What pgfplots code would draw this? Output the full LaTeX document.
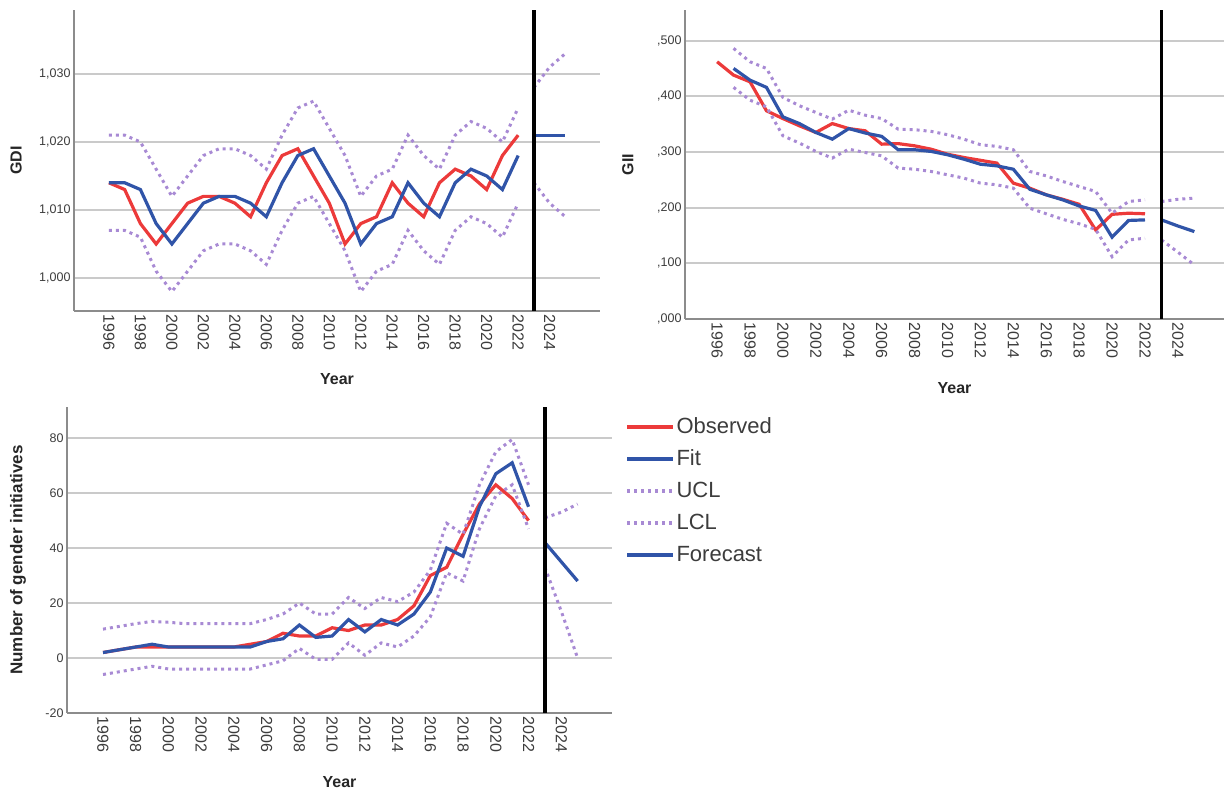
\documentclass[border=0pt]{standalone}
\usepackage{fontspec}
\setmainfont{Liberation Sans}
\usepackage{pgfplots}
\pgfplotsset{compat=1.18}
\usepackage{pgfplotstable}

\definecolor{obsred}{RGB}{236,58,58}
\definecolor{fitblue}{RGB}{48,84,168}
\definecolor{clpurple}{RGB}{168,138,212}
\definecolor{gridgray}{RGB}{202,202,202}
\definecolor{axisgray}{RGB}{140,140,140}
\definecolor{ticktext}{RGB}{60,60,60}

% year obs fit ucl lcl
\pgfplotstableread{
year obs fit ucl lcl
1996 1.014 1.014 1.021 1.007
1997 1.013 1.014 1.021 1.007
1998 1.008 1.013 1.020 1.006
1999 1.005 1.008 1.016 1.001
2000 1.008 1.005 1.012 0.998
2001 1.011 1.008 1.015 1.001
2002 1.012 1.011 1.018 1.004
2003 1.012 1.012 1.019 1.005
2004 1.011 1.012 1.019 1.005
2005 1.009 1.011 1.018 1.004
2006 1.014 1.009 1.016 1.002
2007 1.018 1.014 1.021 1.007
2008 1.019 1.018 1.025 1.011
2009 1.015 1.019 1.026 1.012
2010 1.011 1.015 1.022 1.008
2011 1.005 1.011 1.018 1.004
2012 1.008 1.005 1.012 0.998
2013 1.009 1.008 1.015 1.001
2014 1.014 1.009 1.016 1.002
2015 1.011 1.014 1.021 1.007
2016 1.009 1.011 1.018 1.004
2017 1.014 1.009 1.016 1.002
2018 1.016 1.014 1.021 1.007
2019 1.015 1.016 1.023 1.009
2020 1.013 1.015 1.022 1.008
2021 1.018 1.013 1.020 1.006
2022 1.021 1.018 1.025 1.011
}\gdi
\pgfplotstableread{
year fc ucl lcl
2023 1.021 1.028 1.014
2024 1.021 1.031 1.011
2025 1.021 1.033 1.009
}\gdifc

\pgfplotstableread{
year obs fit ucl lcl
1996 0.462 nan nan nan
1997 0.438 0.450 0.486 0.416
1998 0.426 0.429 0.462 0.393
1999 0.374 0.416 0.450 0.381
2000 0.360 0.363 0.398 0.329
2001 0.347 0.351 0.383 0.316
2002 0.335 0.335 0.371 0.301
2003 0.351 0.323 0.359 0.289
2004 0.342 0.342 0.375 0.305
2005 0.338 0.334 0.366 0.299
2006 0.314 0.328 0.360 0.293
2007 0.315 0.304 0.341 0.271
2008 0.311 0.304 0.340 0.269
2009 0.305 0.301 0.337 0.265
2010 0.296 0.295 0.331 0.259
2011 0.290 0.287 0.323 0.253
2012 0.285 0.278 0.313 0.244
2013 0.280 0.275 0.310 0.241
2014 0.244 0.269 0.304 0.235
2015 0.235 0.233 0.265 0.199
2016 0.223 0.223 0.257 0.189
2017 0.215 0.214 0.247 0.179
2018 0.206 0.203 0.238 0.171
2019 0.160 0.195 0.229 0.161
2020 0.188 0.147 0.190 0.112
2021 0.190 0.177 0.211 0.142
2022 0.189 0.178 0.214 0.145
}\gii
\pgfplotstableread{
year fc ucl lcl
2023 0.178 0.211 0.142
2024 0.167 0.215 0.120
2025 0.157 0.217 0.097
}\giifc

\pgfplotstableread{
year obs fit ucl lcl
1996 2 2 10.5 -6
1997 3 3 11.5 -5
1998 4 4 12.5 -4
1999 4 5 13.3 -3
2000 4 4 13 -4
2001 4 4 12.5 -4
2002 4 4 12.5 -4
2003 4 4 12.5 -4
2004 4 4 12.5 -4
2005 5 4 12.5 -4
2006 6 6 14 -2.5
2007 9 7 16 -1
2008 8 12 20 3.5
2009 8 7.5 16 -0.5
2010 11 8 16 -0.5
2011 10 14 22 5.5
2012 12 9.5 18 1
2013 12 14 22 5.5
2014 14 12 20.5 4
2015 19 16 24 8
2016 30 24 32 15
2017 33 40 49 31
2018 45 37 45 28
2019 56 55 63 47
2020 63 67 75 59
2021 58 71 79.5 63
2022 50 55 63 47
}\gin
\pgfplotstableread{
year fc ucl lcl
2023 42 51 33
2024 35 53 17
2025 28 56 0
}\ginfc

\pgfplotsset{
  spss/.style={
    scale only axis,
    anchor=south west,
    every non boxed x axis/.append style={x axis line style={-}},
    every non boxed y axis/.append style={y axis line style={-}},
    axis x line*=bottom,
    axis y line*=left,
    axis line style={axisgray, line width=1.8pt},
    ymajorgrids,
    grid style={gridgray, line width=1.8pt},
    major tick length=0pt,
    xtick={1996,1998,...,2024},
    xticklabels={1996,1998,2000,2002,2004,2006,2008,2010,2012,2014,2016,2018,2020,2022,2024},
    xticklabel style={rotate=-90, anchor=west, font=\fontsize{16}{18}\selectfont, text=ticktext},
    yticklabel style={font=\fontsize{12.5}{14}\selectfont, text=ticktext},
    label style={font=\bfseries\fontsize{16}{18}\selectfont, text=black!85},
    xlabel={Year},
  },
  obs/.style={obsred, line width=3.2pt},
  fit/.style={fitblue, line width=3.2pt},
  cl/.style={clpurple, line width=3pt, dash pattern=on 3pt off 4pt},
  refline/.style={black, line width=3.5pt, forget plot},
}

\begin{document}
\begin{tikzpicture}
\path[use as bounding box] (0,0) rectangle (1224pt,794pt);

% GDI
\begin{axis}[spss,
  at={(74pt,483pt)}, width=526pt, height=301pt,
  xmin=1993.78, xmax=2027.2, ymin=0.99515, ymax=1.0394,
  ytick={1.000,1.010,1.020,1.030},
  yticklabels={{1,000},{1,010},{1,020},{1,030}},
  ylabel={GDI},
  xlabel style={at={(axis description cs:0.5,-0.226)}, anchor=center},
  ylabel style={at={(axis description cs:-0.110,0.5)}, anchor=center},
]
\addplot[obs] table[x=year, y=obs] {\gdi};
\addplot[fit] table[x=year, y=fit] {\gdi};
\addplot[cl] table[x=year, y=ucl] {\gdi};
\addplot[cl] table[x=year, y=lcl] {\gdi};
\addplot[fit] table[x=year, y=fc] {\gdifc};
\addplot[cl] table[x=year, y=ucl] {\gdifc};
\addplot[cl] table[x=year, y=lcl] {\gdifc};
\addplot[refline] coordinates {(2023,0.99515) (2023,1.0394)};
\end{axis}

% GII
\begin{axis}[spss,
  at={(685pt,475pt)}, width=539pt, height=309pt,
  xmin=1994.05, xmax=2026.8, ymin=0, ymax=0.555,
  ytick={0,0.1,0.2,0.3,0.4,0.5},
  yticklabels={{,000},{,100},{,200},{,300},{,400},{,500}},
  ylabel={GII},
  xlabel style={at={(axis description cs:0.5,-0.223)}, anchor=center},
  ylabel style={at={(axis description cs:-0.106,0.5)}, anchor=center},
]
\addplot[obs] table[x=year, y=obs] {\gii};
\addplot[fit] table[x=year, y=fit] {\gii};
\addplot[cl] table[x=year, y=ucl] {\gii};
\addplot[cl] table[x=year, y=lcl] {\gii};
\addplot[fit] table[x=year, y=fc] {\giifc};
\addplot[cl] table[x=year, y=ucl] {\giifc};
\addplot[cl] table[x=year, y=lcl] {\giifc};
\addplot[refline] coordinates {(2023,0) (2023,0.555)};
\end{axis}

% Number of gender initiatives
\begin{axis}[spss,
  at={(67pt,81pt)}, width=545pt, height=306pt,
  xmin=1993.8, xmax=2027.1, ymin=-20, ymax=91.3,
  ytick={-20,0,20,40,60,80},
  yticklabels={-20,0,20,40,60,80},
  ylabel={Number of gender initiatives},
  ylabel style={at={(axis description cs:-0.09,0.5)}, anchor=center, font=\bfseries\fontsize{17}{19}\selectfont},
  xlabel style={at={(axis description cs:0.5,-0.2255)}, anchor=center},
  legend cell align=left,
  legend style={at={(axis description cs:1.018,0.977)}, anchor=north west,
    draw=none, fill=none, font=\fontsize{22}{24}\selectfont, text=ticktext,
    row sep=10pt,
    nodes={inner sep=1pt, text height=16pt, text depth=4pt}},
  legend image code/.code={\draw[#1, line width=4.5pt] (0pt,0pt) -- (46pt,0pt);},
]
\addplot[obs] table[x=year, y=obs] {\gin};
\addlegendentry{Observed}
\addplot[fit] table[x=year, y=fit] {\gin};
\addlegendentry{Fit}
\addplot[cl] table[x=year, y=ucl] {\gin};
\addlegendentry{UCL}
\addplot[cl] table[x=year, y=lcl] {\gin};
\addlegendentry{LCL}
\addplot[fit] table[x=year, y=fc] {\ginfc};
\addlegendentry{Forecast}
\addplot[cl, forget plot] table[x=year, y=ucl] {\ginfc};
\addplot[cl, forget plot] table[x=year, y=lcl] {\ginfc};
\addplot[refline] coordinates {(2023,-20) (2023,91.3)};
\end{axis}
\end{tikzpicture}
\end{document}
